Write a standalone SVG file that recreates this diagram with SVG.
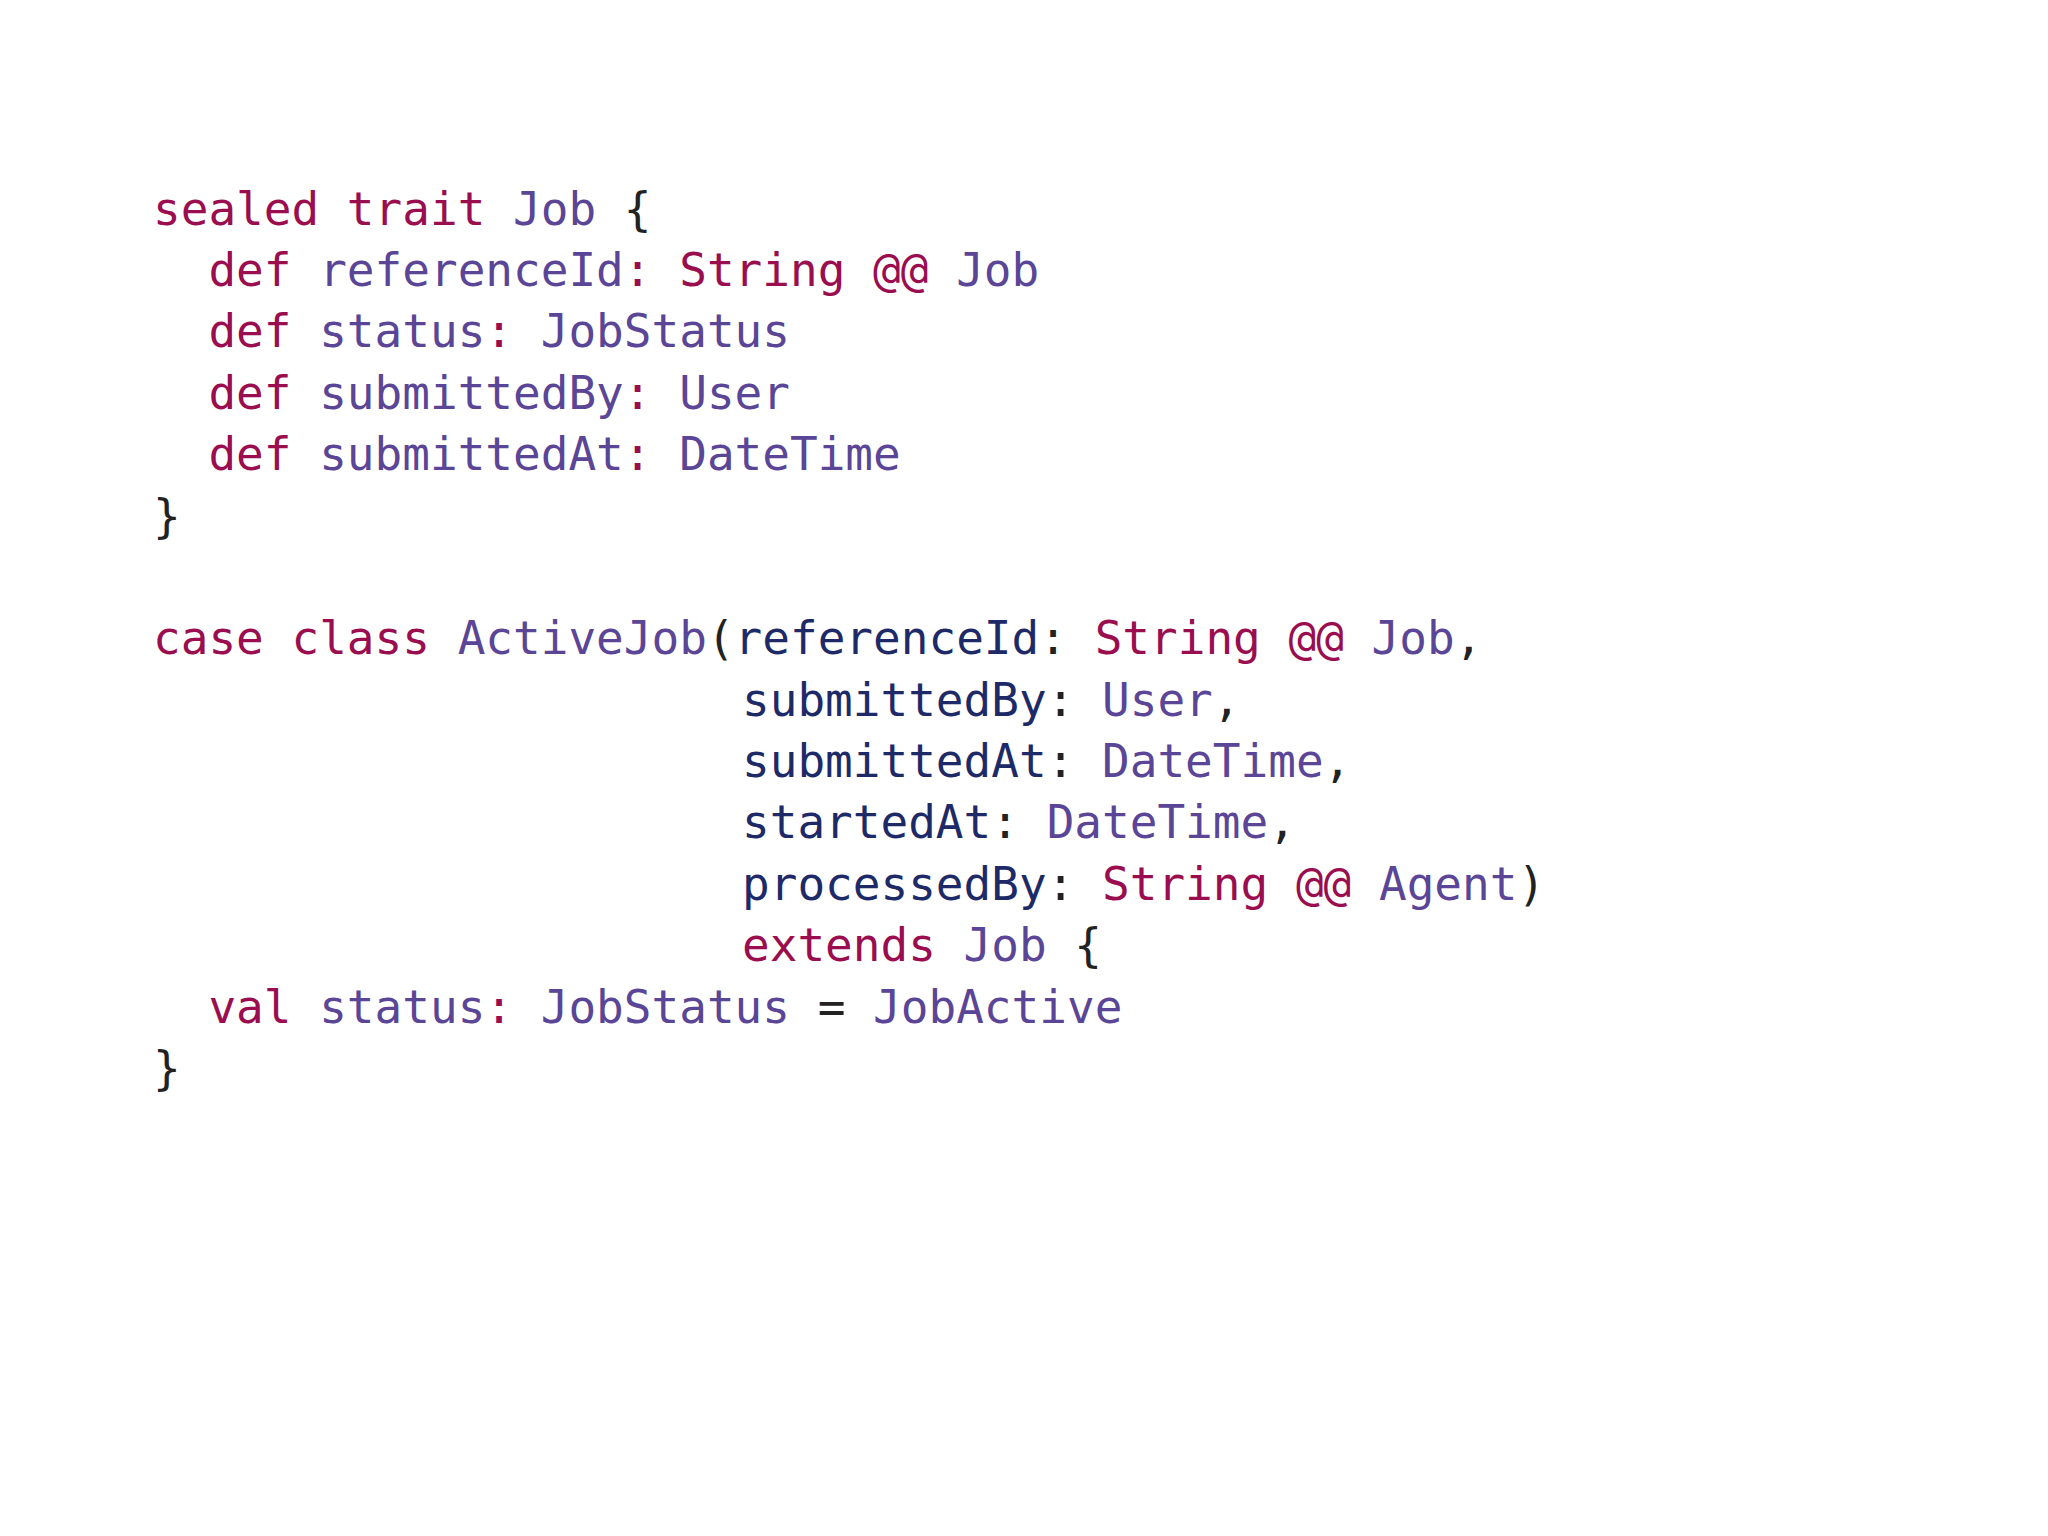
<svg xmlns="http://www.w3.org/2000/svg" width="2048" height="1536" viewBox="0 0 2048 1536">
<style>
text{font-family:"DejaVu Sans Mono","Liberation Mono",monospace;font-size:46px;white-space:pre}
.k{fill:#9a0d4f}.t{fill:#5a4596}.p{fill:#1e2a68}.d{fill:#222}
</style>
<rect width="2048" height="1536" fill="#fff"/>
<g id="trait">
<text x="153" y="225" xml:space="preserve"><tspan class="k">sealed trait </tspan><tspan class="t">Job </tspan><tspan class="d">{</tspan></text>
<text x="153" y="286" xml:space="preserve"><tspan class="k">  def </tspan><tspan class="t">referenceId</tspan><tspan class="k">: String @@ </tspan><tspan class="t">Job</tspan></text>
<text x="153" y="347" xml:space="preserve"><tspan class="k">  def </tspan><tspan class="t">status</tspan><tspan class="k">: </tspan><tspan class="t">JobStatus</tspan></text>
<text x="153" y="409" xml:space="preserve"><tspan class="k">  def </tspan><tspan class="t">submittedBy</tspan><tspan class="k">: </tspan><tspan class="t">User</tspan></text>
<text x="153" y="470" xml:space="preserve"><tspan class="k">  def </tspan><tspan class="t">submittedAt</tspan><tspan class="k">: </tspan><tspan class="t">DateTime</tspan></text>
<text x="153" y="532" class="d">}</text>
</g>
<g id="caseclass">
<text x="153" y="654" xml:space="preserve"><tspan class="k">case class </tspan><tspan class="t">ActiveJob</tspan><tspan class="d">(</tspan><tspan class="p">referenceId</tspan><tspan class="d">: </tspan><tspan class="k">String @@ </tspan><tspan class="t">Job</tspan><tspan class="d">,</tspan></text>
<text x="742" y="716" xml:space="preserve"><tspan class="p">submittedBy</tspan><tspan class="d">: </tspan><tspan class="t">User</tspan><tspan class="d">,</tspan></text>
<text x="742" y="777" xml:space="preserve"><tspan class="p">submittedAt</tspan><tspan class="d">: </tspan><tspan class="t">DateTime</tspan><tspan class="d">,</tspan></text>
<text x="742" y="838" xml:space="preserve"><tspan class="p">startedAt</tspan><tspan class="d">: </tspan><tspan class="t">DateTime</tspan><tspan class="d">,</tspan></text>
<text x="742" y="900" xml:space="preserve"><tspan class="p">processedBy</tspan><tspan class="d">: </tspan><tspan class="k">String @@ </tspan><tspan class="t">Agent</tspan><tspan class="d">)</tspan></text>
<text x="742" y="961" xml:space="preserve"><tspan class="k">extends </tspan><tspan class="t">Job </tspan><tspan class="d">{</tspan></text>
<text x="153" y="1023" xml:space="preserve"><tspan class="k">  val </tspan><tspan class="t">status</tspan><tspan class="k">: </tspan><tspan class="t">JobStatus </tspan><tspan class="d">= </tspan><tspan class="t">JobActive</tspan></text>
<text x="153" y="1084" class="d">}</text>
</g>
</svg>
